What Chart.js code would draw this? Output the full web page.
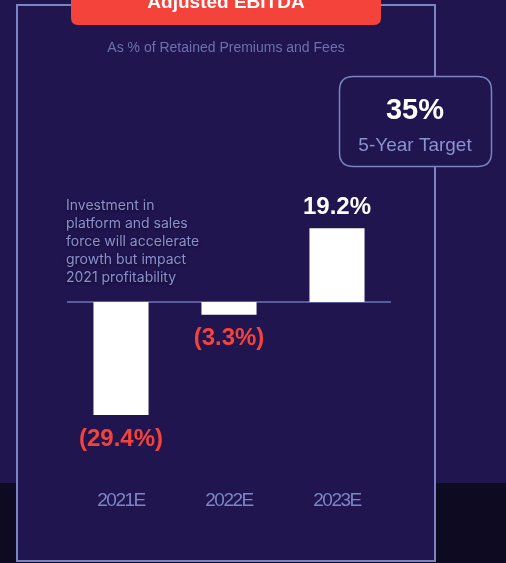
<!DOCTYPE html>
<html>
<head>
<meta charset="utf-8">
<script src="https://cdn.jsdelivr.net/npm/chart.js@4"></script>
<style>
  html, body { margin: 0; padding: 0; background: #20154f; }
  canvas { display: block; }
</style>
</head>
<body>
<canvas id="ebitdaChart" width="506" height="563"></canvas>
<script>
// ================= DATA =================
const years = ["2021E", "2022E", "2023E"];
const ebitdaMargin = [-29.4, -3.3, 19.2];
const targetValue = 35;
const titleText = "Adjusted EBITDA";
const subtitleText = "As % of Retained Premiums and Fees";
const targetLabel = "5-Year Target";
const noteLines = [
    "Investment in",
    "platform and sales",
    "force will accelerate",
    "growth but impact",
    "2021 profitability"
];

const BG = "#20154f";
const BG_DARK = "#0e0a21";
const BORDER = "#7a84c4";
const RED = "#f4433a";
const SANS = "'Liberation Sans', Arial, sans-serif";

function roundRect(ctx, x, y, w, h, r) {
    ctx.beginPath();
    ctx.moveTo(x + r, y);
    ctx.lineTo(x + w - r, y);
    ctx.quadraticCurveTo(x + w, y, x + w, y + r);
    ctx.lineTo(x + w, y + h - r);
    ctx.quadraticCurveTo(x + w, y + h, x + w - r, y + h);
    ctx.lineTo(x + r, y + h);
    ctx.quadraticCurveTo(x, y + h, x, y + h - r);
    ctx.lineTo(x, y + r);
    ctx.quadraticCurveTo(x, y, x + r, y);
    ctx.closePath();
}

// ================= PANEL / DECORATION =================
const panelPlugin = {
    id: "panel",
    beforeDraw(chart) {
        const ctx = chart.ctx;
        ctx.save();
        ctx.fillStyle = BG;
        ctx.fillRect(0, 0, chart.width, chart.height);
        ctx.fillStyle = BG_DARK;
        ctx.fillRect(0, 483, chart.width, chart.height - 483);
        ctx.fillStyle = BG;
        ctx.fillRect(17, 5, 418, 556);
        ctx.strokeStyle = BORDER;
        ctx.lineWidth = 2;
        ctx.strokeRect(17, 5, 418, 556);

        // header pill
        ctx.fillStyle = RED;
        roundRect(ctx, 71, -12, 310, 37, 7);
        ctx.fill();
        ctx.fillStyle = "#ffffff";
        ctx.font = "bold 19px " + SANS;
        ctx.textAlign = "center";
        ctx.textBaseline = "alphabetic";
        ctx.fillText(titleText, 226, 8);

        // subtitle
        ctx.fillStyle = "#6c71ae";
        ctx.font = "14px " + SANS;
        ctx.textBaseline = "middle";
        ctx.fillText(subtitleText, 226, 48);

        // target box
        ctx.fillStyle = BG;
        roundRect(ctx, 339.5, 76.5, 152, 90, 14);
        ctx.fill();
        ctx.strokeStyle = BORDER;
        ctx.lineWidth = 1.5;
        ctx.stroke();
        ctx.fillStyle = "#ffffff";
        ctx.font = "bold 29px " + SANS;
        ctx.fillText(targetValue + "%", 415, 111);
        ctx.fillStyle = "#8b92d0";
        ctx.font = "19px " + SANS;
        ctx.fillText(targetLabel, 415, 146);

        // note
        ctx.textAlign = "left";
        ctx.font = "14px Inter, 'Noto Sans', sans-serif";
        ctx.fillStyle = "#8b90cf";
        ctx.shadowColor = "rgba(0,0,0,0.5)";
        ctx.shadowBlur = 3;
        ctx.shadowOffsetY = 1;
        noteLines.forEach(function (line, i) {
            ctx.fillText(line, 66, 206 + i * 18);
        });
        ctx.restore();
        // tight tracking for the year labels drawn by the x axis
        ctx.letterSpacing = "-1.5px";
    },
    beforeDatasetsDraw(chart) {
        const ctx = chart.ctx;
        const y0 = chart.scales.y.getPixelForValue(0);
        ctx.save();
        ctx.strokeStyle = "#6d74b3";
        ctx.lineWidth = 1.5;
        ctx.beginPath();
        ctx.moveTo(chart.chartArea.left, y0);
        ctx.lineTo(chart.chartArea.right, y0);
        ctx.stroke();
        ctx.restore();
    }
};

// ================= VALUE LABELS =================
const valueLabels = {
    id: "valueLabels",
    afterDatasetsDraw(chart) {
        const ctx = chart.ctx;
        const meta = chart.getDatasetMeta(0);
        ctx.save();
        ctx.letterSpacing = "0px";
        ctx.font = "bold 24px " + SANS;
        ctx.textAlign = "center";
        ctx.textBaseline = "middle";
        meta.data.forEach(function (bar, i) {
            const v = ebitdaMargin[i];
            if (v < 0) {
                ctx.fillStyle = RED;
                ctx.fillText("(" + Math.abs(v).toFixed(1) + "%)", bar.x, bar.y + 24);
            } else {
                ctx.fillStyle = "#ffffff";
                ctx.fillText(v.toFixed(1) + "%", bar.x, bar.y - 21);
            }
        });
        ctx.restore();
    }
};

const ctx = document.getElementById("ebitdaChart").getContext("2d");
new Chart(ctx, {
    type: "bar",
    data: {
        labels: years,
        datasets: [{
            data: ebitdaMargin,
            backgroundColor: "#ffffff",
            borderWidth: 0,
            barPercentage: 0.51,
            categoryPercentage: 1
        }]
    },
    options: {
        responsive: false,
        animation: false,
        layout: { padding: { left: 67, right: 115, top: 186.8, bottom: 55.4 } },
        plugins: {
            legend: { display: false },
            tooltip: { enabled: false }
        },
        scales: {
            y: { display: false, min: -45, max: 30 },
            x: {
                grid: { display: false, drawTicks: false },
                border: { display: false },
                afterFit: function (scale) { scale.height = 32.8; },
                ticks: {
                    color: "#7b86c5",
                    padding: 15,
                    maxRotation: 0,
                    font: { family: SANS, size: 19 }
                }
            }
        }
    },
    plugins: [panelPlugin, valueLabels]
});
</script>
</body>
</html>
